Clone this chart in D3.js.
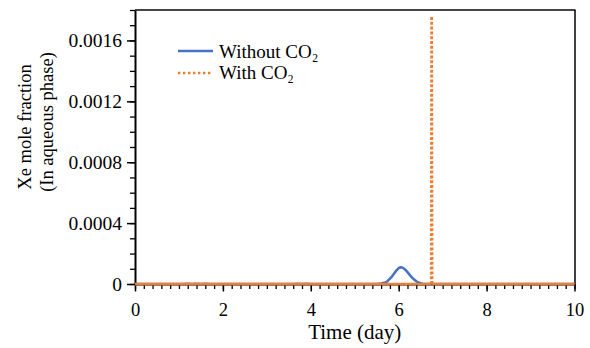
<!DOCTYPE html>
<html><head><meta charset="utf-8">
<script src="https://cdn.jsdelivr.net/npm/d3@7"></script>
<style>
body{margin:0;background:#fff;}
text{font-family:"Liberation Serif","Times New Roman",serif;fill:#000;}
</style></head>
<body><svg id="c" width="590" height="348"></svg>
<script>
// ---- data ----
const seriesNames = ["Without CO\u2082", "With CO\u2082"];
const withoutTime = [0, 1.1, 1.2, 1.3, 1.4, 1.5, 1.6, 1.7, 3.6, 3.7, 3.8, 3.9, 4.0, 5.5, 5.6, 5.7, 5.75, 5.8, 5.85, 5.9, 5.95, 6.0, 6.05, 6.1, 6.15, 6.2, 6.25, 6.3, 6.35, 6.4, 6.45, 6.5, 6.55, 6.6, 10];
const withoutXe   = [0, 0, 0.000002, 0, 0.000002, 0, 0.000002, 0, 0, 0.000002, 0, 0.000002, 0, 0, 0.000003, 0.00001, 0.00002, 0.000035, 0.00005, 0.00007, 0.00009, 0.000105, 0.00011, 0.000106, 0.000094, 0.000078, 0.00006, 0.000043, 0.00003, 0.000018, 0.00001, 0.000005, 0.000002, 0, 0];
const withTime = [0, 6.74, 6.75, 6.76, 10];
const withXe   = [0, 0, 0.00176, 0, 0];
const xMajorTicks = [0, 2, 4, 6, 8, 10];
const yMajorTicks = [0, 0.0004, 0.0008, 0.0012, 0.0016];
const yTickLabels = ["0", "0.0004", "0.0008", "0.0012", "0.0016"];
const xTitle = "Time (day)";
const yTitle = ["Xe mole fraction", "(In aqueous phase)"];

// ---- layout ----
const svg = d3.select("#c");
const L = 135, R = 574.5, T = 10, B = 284;
const x = d3.scaleLinear().domain([0, 10]).range([L, R]);
const y = d3.scaleLinear().domain([0, 0.0018]).range([B, T]);
const blue = "#4472C4", orange = "#ED7D31";

// frame top/right
svg.append("line").attr("x1", L).attr("x2", R + 1).attr("y1", T).attr("y2", T)
  .attr("stroke", "#444").attr("stroke-width", 2);
svg.append("line").attr("x1", R + 0.5).attr("x2", R + 0.5).attr("y1", T).attr("y2", B)
  .attr("stroke", "#000").attr("stroke-width", 1.5);

// minor ticks
const xMinor = d3.range(0, 10.001, 0.2).map(v => +v.toFixed(2));
const yMinor = d3.range(0, 0.0018001, 0.0001).map(v => +v.toFixed(5));
svg.append("g").attr("transform", `translate(0,${B})`)
  .call(d3.axisBottom(x).tickValues(xMinor).tickSize(5).tickFormat(""))
  .call(g => g.select(".domain").remove())
  .call(g => g.selectAll("line").attr("stroke-width", 1.3));
svg.append("g").attr("transform", `translate(${L},0)`)
  .call(d3.axisLeft(y).tickValues(yMinor).tickSize(5).tickFormat(""))
  .call(g => g.select(".domain").remove())
  .call(g => g.selectAll("line").attr("stroke-width", 1.3));

// major axes
svg.append("g").attr("transform", `translate(0,${B})`)
  .call(d3.axisBottom(x).tickValues(xMajorTicks).tickSize(7.5).tickSizeOuter(0).tickPadding(11).tickFormat(d3.format("d")))
  .call(g => g.select(".domain").attr("stroke-width", 2))
  .call(g => g.selectAll("line").attr("stroke-width", 1.5))
  .call(g => g.selectAll("text").attr("font-size", 18.5).style("font-family", "Liberation Serif"));
svg.append("g").attr("transform", `translate(${L},0)`)
  .call(d3.axisLeft(y).tickValues(yMajorTicks).tickSize(8).tickSizeOuter(0).tickPadding(5)
    .tickFormat((d, i) => yTickLabels[i]))
  .call(g => g.select(".domain").attr("stroke-width", 2))
  .call(g => g.selectAll("line").attr("stroke-width", 1.5))
  .call(g => g.selectAll("text").attr("font-size", 19.5).style("font-family", "Liberation Serif"));

// series
const line = d3.line().x(d => x(d[0])).y(d => y(d[1]));
const blueData = withoutTime.map((t, i) => [t, withoutXe[i]]);
const orangeData = withTime.map((t, i) => [t, withXe[i]]);
svg.append("path").datum(blueData).attr("d", line)
  .attr("fill", "none").attr("stroke", blue).attr("stroke-width", 2.5).attr("stroke-linejoin", "round");
// orange: zero stretches render as a continuous line, rising part dotted
const zeroRuns = [], peakRuns = [];
for (let i = 0; i < orangeData.length - 1; i++) {
  const seg = [orangeData[i], orangeData[i + 1]];
  (seg[0][1] === 0 && seg[1][1] === 0 ? zeroRuns : peakRuns).push(seg);
}
svg.append("g").selectAll("path").data(zeroRuns).join("path").attr("d", line)
  .attr("fill", "none").attr("stroke", orange).attr("stroke-width", 2.5);
svg.append("path").datum(peakRuns.flat()).attr("d", line)
  .attr("fill", "none").attr("stroke", orange).attr("stroke-width", 2.8)
  .attr("stroke-dasharray", "2.6,2.2");

// legend
const lg = svg.append("g");
lg.append("line").attr("x1", 178).attr("x2", 213).attr("y1", 51).attr("y2", 51)
  .attr("stroke", blue).attr("stroke-width", 2.5);
lg.append("line").attr("x1", 178).attr("x2", 213).attr("y1", 73).attr("y2", 73)
  .attr("stroke", orange).attr("stroke-width", 2.6).attr("stroke-dasharray", "2.4,2.6");
[[seriesNames[0], 57.5], [seriesNames[1], 78.5]].forEach(([s, yy]) => {
  lg.append("text").attr("x", 219).attr("y", yy).attr("font-size", 19).text(s);
});

// titles
svg.append("text").attr("x", x(5)).attr("y", 339).attr("text-anchor", "middle")
  .attr("font-size", 21).text(xTitle);
svg.append("text").attr("transform", "translate(31,127) rotate(-90)").attr("text-anchor", "middle")
  .attr("font-size", 18.5).text(yTitle[0]);
svg.append("text").attr("transform", "translate(53,122) rotate(-90)").attr("text-anchor", "middle")
  .attr("font-size", 18.5).text(yTitle[1]);
</script></body></html>
